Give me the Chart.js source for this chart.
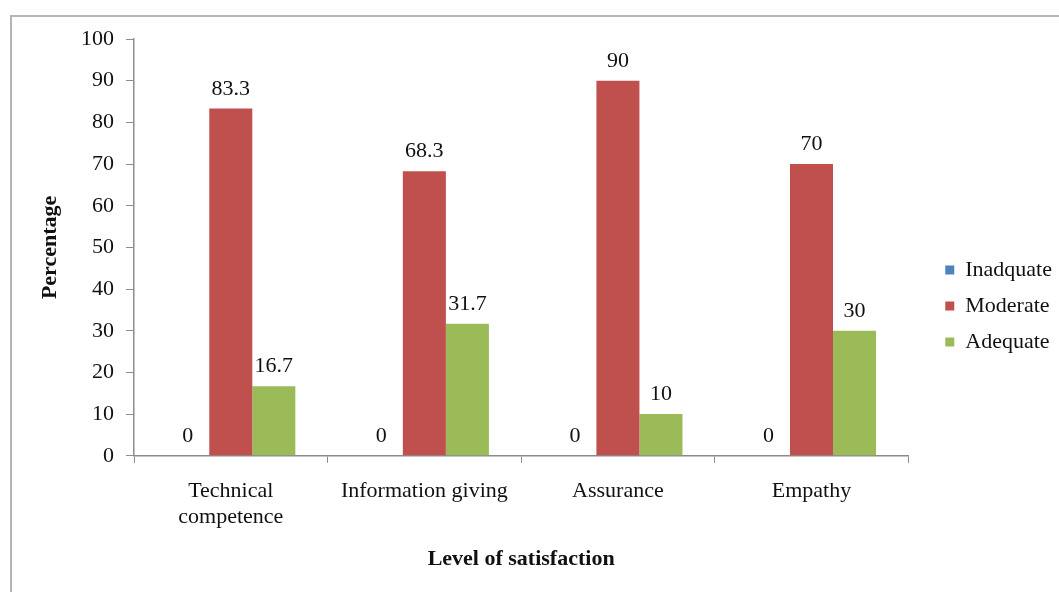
<!DOCTYPE html>
<html>
<head>
<meta charset="utf-8">
<script src="https://cdn.jsdelivr.net/npm/chart.js@4.4.1/dist/chart.umd.min.js"></script>
<style>
    body { margin: 0; background: #fff; overflow: hidden; }
    #frame {
        position: absolute; left: 10px; top: 15px;
        width: 1070px; height: 600px;
        border: 2px solid #b5b5b5;
    }
    #chart { position: absolute; left: 0; top: 0; }
</style>
</head>
<body>
<div id="frame"></div>
<canvas id="chart" width="1059" height="592"></canvas>
<script>
/* -------- DATA START -------- */
const categories = [["Technical", "competence"], "Information giving", "Assurance", "Empathy"];
const seriesNames = ["Inadquate", "Moderate", "Adequate"];
const inadequateValues = [0, 0, 0, 0];
const moderateValues = [83.3, 68.3, 90, 70];
const adequateValues = [16.7, 31.7, 10, 30];
const yTicks = [0, 10, 20, 30, 40, 50, 60, 70, 80, 90, 100];
/* -------- DATA END -------- */

const seriesColors = ["#4f81bd", "#c0504d", "#9bbb59"];
const fontFamily = "'Liberation Serif', 'Times New Roman', serif";
const fontSize = 22;
const axisGrey = "#8c8c8c";

// draws the value above each bar, like the Excel data labels
const valueLabels = {
    id: "valueLabels",
    afterDatasetsDraw(chart) {
        const ctx = chart.ctx;
        ctx.save();
        ctx.font = fontSize + "px " + fontFamily;
        ctx.fillStyle = "#111";
        ctx.textAlign = "center";
        ctx.textBaseline = "alphabetic";
        chart.data.datasets.forEach((ds, i) => {
            chart.getDatasetMeta(i).data.forEach((bar, j) => {
                ctx.fillText(String(ds.data[j]), bar.x, bar.y - 14);
            });
        });
        ctx.restore();
    }
};

// widens the legend box so there is more space between plot and legend,
// then pushes the legend items back to the right
const legendSpacer = {
    id: "legendSpacer",
    afterInit(chart) {
        const legend = chart.legend;
        const fit = legend.fit.bind(legend);
        legend.fit = () => {
            fit();
            legend.width += 20;
        };
    },
    afterLayout(chart) {
        chart.legend.left += 23;
    }
};

document.addEventListener("DOMContentLoaded", () => {
    const ctx = document.getElementById("chart").getContext("2d");
    new Chart(ctx, {
        type: "bar",
        data: {
            labels: categories,
            datasets: [
                { label: seriesNames[0], data: inadequateValues, backgroundColor: seriesColors[0] },
                { label: seriesNames[1], data: moderateValues, backgroundColor: seriesColors[1] },
                { label: seriesNames[2], data: adequateValues, backgroundColor: seriesColors[2] },
            ]
        },
        options: {
            responsive: false,
            animation: false,
            devicePixelRatio: 1,
            layout: { padding: { left: 0, top: 39, right: 0, bottom: 19 } },
            datasets: { bar: { categoryPercentage: 0.667, barPercentage: 1 } },
            plugins: {
                tooltip: { enabled: false },
                legend: {
                    position: "right",
                    align: "center",
                    labels: {
                        boxWidth: 9,
                        boxHeight: 9,
                        padding: 14,
                        color: "#111",
                        font: { family: fontFamily, size: fontSize }
                    }
                }
            },
            scales: {
                x: {
                    grid: {
                        offset: true,
                        drawOnChartArea: false,
                        drawTicks: true,
                        tickLength: 7,
                        color: axisGrey
                    },
                    border: { color: axisGrey, width: 1.5 },
                    ticks: {
                        color: "#111",
                        padding: 15,
                        font: { family: fontFamily, size: fontSize },
                        maxRotation: 0
                    },
                    title: {
                        display: true,
                        text: "Level of satisfaction",
                        color: "#111",
                        font: { family: fontFamily, size: fontSize, weight: "bold" },
                        padding: { top: 1, bottom: 0 }
                    }
                },
                y: {
                    min: 0,
                    max: 100,
                    afterFit(scale) { scale.width = 134; },
                    afterBuildTicks(scale) { scale.ticks = yTicks.map(v => ({ value: v })); },
                    grid: {
                        drawOnChartArea: false,
                        drawTicks: true,
                        tickLength: 8,
                        color: axisGrey
                    },
                    border: { color: axisGrey, width: 1.5 },
                    ticks: {
                        color: "#111",
                        padding: 12,
                        font: { family: fontFamily, size: fontSize }
                    },
                    title: {
                        display: true,
                        text: "Percentage",
                        color: "#111",
                        font: { family: fontFamily, size: fontSize, weight: "bold" },
                        padding: { top: 37, bottom: 0 }
                    }
                }
            }
        },
        plugins: [valueLabels, legendSpacer]
    });
});
</script>
</body>
</html>
